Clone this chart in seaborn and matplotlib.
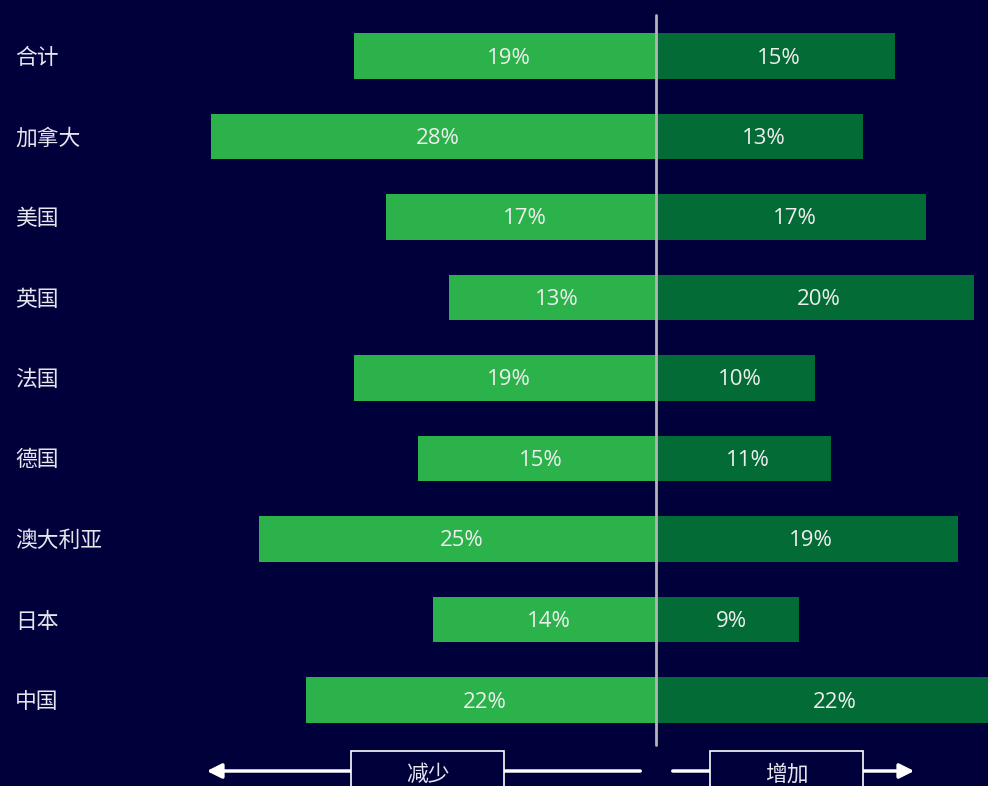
import pandas as pd
import matplotlib.pyplot as plt
import seaborn as sns
from matplotlib.patches import Rectangle

countries = ["合计", "加拿大", "美国", "英国", "法国", "德国", "澳大利亚", "日本", "中国"]
decrease = [19, 28, 17, 13, 19, 15, 25, 14, 22]
increase = [15, 13, 17, 20, 10, 11, 19, 9, 22]

bg = "#00003a"
light_green = "#2bb24a"
dark_green = "#036b36"

sns.set_theme(style="white")
plt.rcParams["font.family"] = ["Noto Sans CJK SC", "DejaVu Sans"]

data = pd.DataFrame({"country": countries, "decrease": decrease, "increase": increase})
data["neg"] = -data["decrease"]

fig = plt.figure(figsize=(9.88, 7.86), dpi=100, facecolor=bg)
ax = fig.add_axes([0, 0, 1, 1])
ax.set_facecolor(bg)

sns.barplot(data=data, x="neg", y="country", color=light_green, width=0.56,
            orient="h", saturation=1, linewidth=0, ax=ax)
sns.barplot(data=data, x="increase", y="country", color=dark_green, width=0.56,
            orient="h", saturation=1, linewidth=0, ax=ax)

# pixel -> data helpers
scale = 15.9
def px(x):
    return (x - 656) / scale

def py(y):
    return (y - 56) / 80.5

ax.set_xlim(px(0), px(988))
ax.set_ylim(py(786), py(0))

dy = 2 / 80.5
dx = 4 / scale
for i, (d, n) in enumerate(zip(decrease, increase)):
    ax.text(-d / 2 + dx, i + dy, f"{d}%", ha="center", va="center", color="#eeeeee",
            fontsize=16, family=["Open Sans", "DejaVu Sans"])
    ax.text(n / 2 + dx, i + dy, f"{n}%", ha="center", va="center", color="#eeeeee",
            fontsize=16, family=["Open Sans", "DejaVu Sans"])
    ax.text(px(15), i + dy, countries[i], ha="left", va="center", color="#e6e6ee",
            fontsize=15.7)

ax.plot([0, 0], [py(15), py(745)], color="#b4b4b4", lw=2, zorder=5)

# bottom arrows with boxes
ya = py(771)
ax.annotate("", xy=(px(204), ya), xytext=(px(643), ya),
            arrowprops=dict(arrowstyle="-|>", color="white", lw=2.5, mutation_scale=22))
ax.annotate("", xy=(px(917), ya), xytext=(px(670), ya),
            arrowprops=dict(arrowstyle="-|>", color="white", lw=2.5, mutation_scale=22))
for x0, x1, label in [(351, 504, "减少"), (710, 863, "增加")]:
    ax.add_patch(Rectangle((px(x0), py(751)), px(x1) - px(x0), py(800) - py(751),
                           facecolor=bg, edgecolor="white", lw=1.2, zorder=6))
    ax.text((px(x0) + px(x1)) / 2, py(775), label, ha="center", va="center",
            color="#e6e6ee", fontsize=15.7, zorder=7)

ax.set_xlabel("")
ax.set_ylabel("")
ax.set_xticks([])
ax.set_yticks([])
sns.despine(ax=ax, left=True, bottom=True)

fig.savefig("out.png", dpi=100, facecolor=bg)
